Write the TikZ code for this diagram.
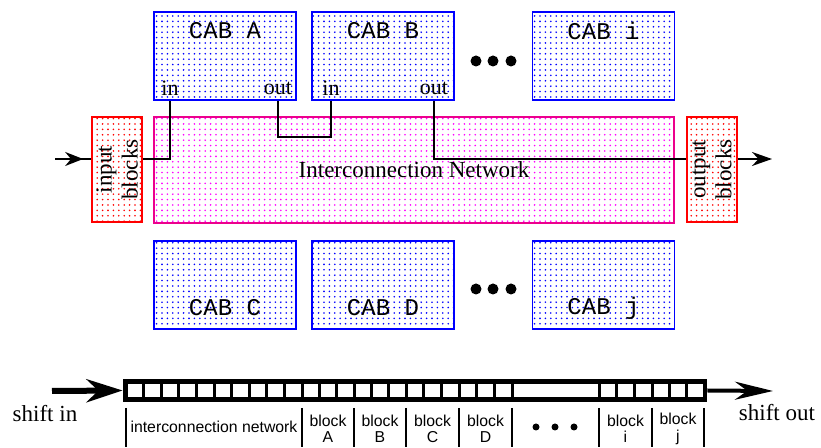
\documentclass[tikz,border=0pt]{standalone}
\usepackage{fontspec}
\setmainfont{Liberation Serif}
\newfontfamily\cabfont{Liberation Mono}
\newfontfamily\cellfont{Liberation Sans}
\usetikzlibrary{patterns.meta,arrows.meta,calc}
\begin{document}
\begin{tikzpicture}[x=0.5pt,y=-0.5pt,
  dotted box/.style={line width=0.9pt,inner sep=0,pattern={Dots[distance=2.7pt,radius=0.45pt]}},
  cab/.style={dotted box,draw=blue,pattern color=blue,minimum width=71pt,minimum height=44pt},
  blk/.style={dotted box,draw=red,pattern color=red,minimum width=25pt,minimum height=52.5pt},
  net/.style={dotted box,draw=magenta,pattern color=magenta,minimum width=260pt,minimum height=53pt,font=\fontsize{11.5}{13}\selectfont},
  cabname/.style={font=\cabfont\fontsize{12}{13}\selectfont,inner sep=0},
  pin/.style={font=\fontsize{11}{12}\selectfont,inner sep=0},
  side/.style={rotate=90,align=center,inner sep=0,font=\fontsize{11.5}{13}\selectfont},
  cell/.style={font=\cellfont\fontsize{7.9}{8.2}\selectfont,inner sep=0,align=center},
  wire/.style={line width=0.9pt},
  bigdot/.style={circle,fill=black,inner sep=0,minimum size=5.5pt}]
\path[use as bounding box,fill=white] (0,0) rectangle (821,448);

\foreach \id/\x/\y/\ty in {A/225/56/31,B/383/56/31,i/603.5/56/31,C/225/285/308,D/383/285/308,j/603.5/285/308}{
  \node[cab] (cab\id) at (\x,\y) {};
  \node[cabname] (cab\id-name) at (\x,\ty) {CAB \id};
}
\foreach \x in {476,493,511}{
  \node[bigdot] at (\x,61) {};
  \node[bigdot] at (\x,289) {};
}

\node[net] (net) at (414,170) {Interconnection Network};
\node[blk] (inblk) at (117,169.5) {};
\node[blk] (outblk) at (712,169.5) {};
\node[side] at (inblk) {input\\blocks};
\node[side] at (outblk) {output\\blocks};

\node[pin] (inA) at (170,88) {in};
\node[pin] (outA) at (278,88) {out};
\node[pin] (inB) at (331,88) {in};
\node[pin] (outB) at (434,88) {out};

\coordinate (lvl) at (0,159);
\coordinate (src) at (55,159);
\coordinate (dst) at (772,159);
\coordinate (inend) at (inblk.west |- lvl);
\draw[wire] (src) -- (inend);
\draw[wire,-{Stealth[length=9pt,width=7pt]}] (src) -- ($(src)!0.78!(inend)$);
\draw[wire,-{Stealth[length=10pt,width=7pt]}] (outblk.east |- lvl) -- (dst);
\draw[wire] (inblk.east |- lvl) -| (inA |- cabA.south);
\draw[wire] (outA |- cabA.south) -- ++(0,36) -| (inB |- cabB.south);
\draw[wire] (outB |- cabB.south) |- (outblk.west |- lvl);

\node[fill=black,minimum width=292pt,minimum height=11.5pt,inner sep=0] (reg) at (415,390.5) {};
\foreach \a/\b/\n in {126/302/10,302/354/3,354/406/3,406/459/3,459/512/3,512/599/1,599/652/3,652/704/3}
  \foreach \i in {1,...,\n}
    \fill[white] ({\a+(\b-\a)*(\i-1)/\n+1.5},384) rectangle ({\a+(\b-\a)*\i/\n-1.5},397);
\foreach \x in {126,302,354,406,459,512,599,652,704}
  \draw[line width=1pt] (\x,408) -- (\x,447);
\node[cell] (lnet) at (214,427) {interconnection network};
\foreach \x/\bname in {328/A,380/B,432.5/C,485.5/D,625.5/i,678/j}
  \node[cell] at (\x,429) {block\\\bname};
\foreach \x in {536,555,574}
  \fill (\x,427) circle (3.5);

\node[font=\fontsize{11.5}{13}\selectfont,inner sep=0] (shin) at (45,414) {shift in};
\node[font=\fontsize{11.5}{13}\selectfont,inner sep=0] (shout) at (777,413) {shift out};
\coordinate (sa) at (52,391);
\coordinate (sb) at (773,391);
\draw[line width=3pt,-{Stealth[length=18pt,width=11.5pt]}] (sa) -- (reg.west);
\draw[line width=2pt,-{Stealth[length=19pt,width=9pt]}] (reg.east) -- (sb);
\end{tikzpicture}
\end{document}
